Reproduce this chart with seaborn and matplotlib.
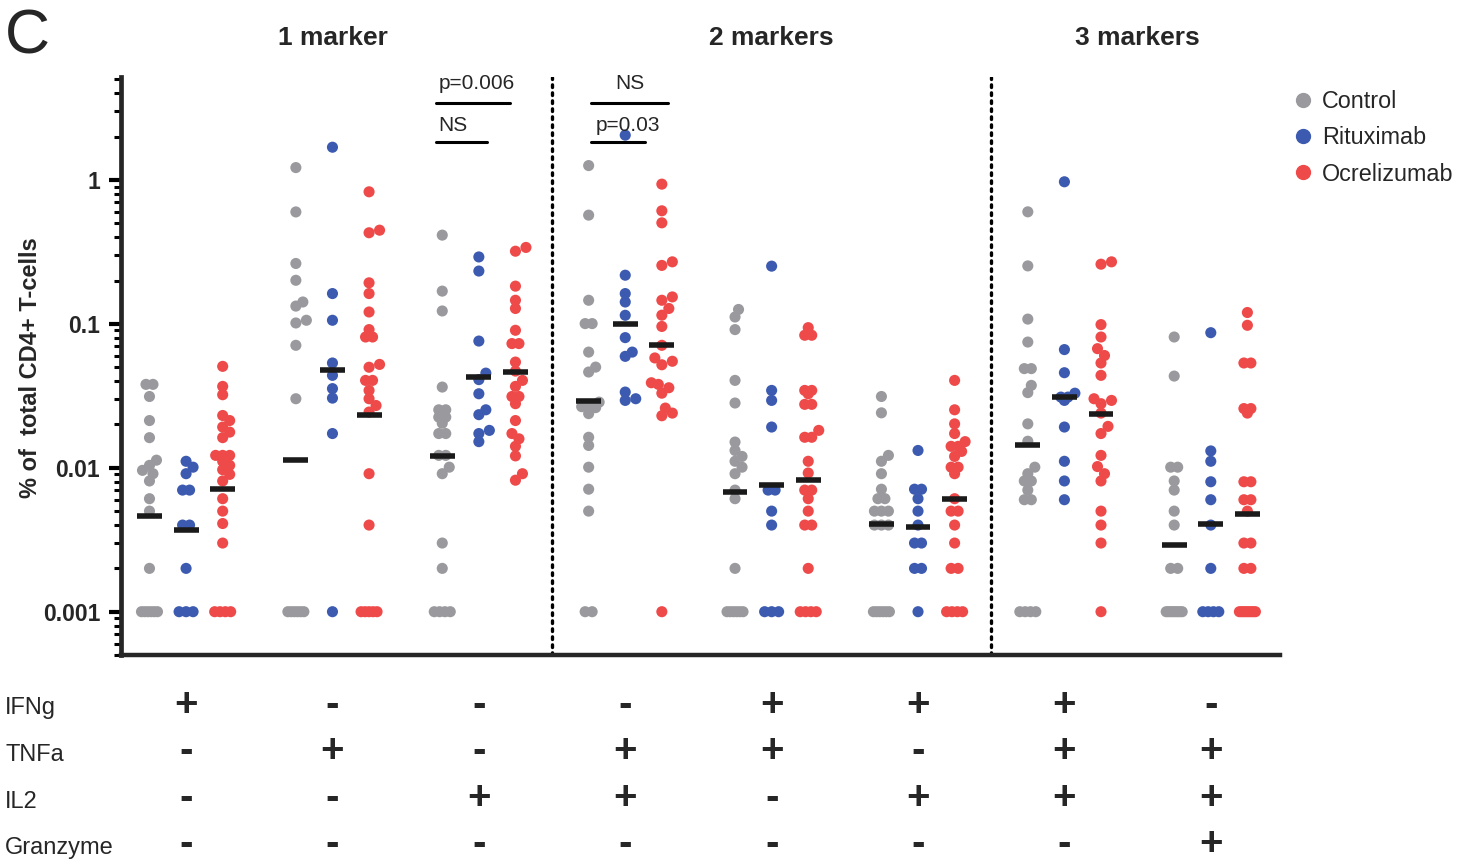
import numpy as np
import pandas as pd
import seaborn as sns
import matplotlib.pyplot as plt
from matplotlib.lines import Line2D
from matplotlib.ticker import LogLocator, NullFormatter
from matplotlib.transforms import blended_transform_factory


# Data (values in % of total CD4+ T-cells)
treatments = ["Control", "Rituximab", "Ocrelizumab"]
colors = ["#9a9a9e", "#3c5bb0", "#ef4a4a"]
detection_limit = 0.001

control = [
    [0.038, 0.038, 0.0313, 0.0213, 0.0162, 0.0113, 0.0104, 0.0096, 0.0091, 0.0081, 0.0061, 0.0050, 0.0020],
    [1.22, 0.60, 0.263, 0.201, 0.142, 0.133, 0.106, 0.1015, 0.071, 0.0302],
    [0.414, 0.169, 0.123, 0.0364, 0.0253, 0.0253, 0.0225, 0.0225, 0.0204, 0.0173, 0.0173, 0.0122, 0.0122,
     0.0101, 0.0091, 0.0030, 0.0020],
    [1.26, 0.57, 0.146, 0.1005, 0.1005, 0.0637, 0.0501, 0.0463, 0.0286, 0.0271, 0.0266, 0.0262, 0.0238,
     0.0163, 0.0143, 0.0101, 0.0071, 0.0050],
    [0.126, 0.1117, 0.0913, 0.0405, 0.0282, 0.0151, 0.0132, 0.0120, 0.0111, 0.0101, 0.0091, 0.0070, 0.0061, 0.0020],
    [0.0313, 0.0241, 0.0122, 0.0111, 0.0091, 0.0071, 0.0061, 0.0061, 0.0050, 0.0050, 0.0050, 0.0040, 0.0040, 0.0040],
    [0.601, 0.253, 0.108, 0.0748, 0.0489, 0.0489, 0.0374, 0.0333, 0.0202, 0.0153, 0.0101, 0.0091, 0.0081,
     0.0081, 0.0070, 0.0060, 0.0060],
    [0.0811, 0.0434, 0.0101, 0.0101, 0.0081, 0.0070, 0.0050, 0.0040, 0.0020, 0.0020],
]
control_floor = [6, 6, 4, 2, 6, 6, 4, 8]
control_median = [0.0046, 0.0114, 0.0120, 0.0289, 0.0068, 0.0041, 0.0143, 0.0029]

rituximab = [
    [0.0111, 0.0101, 0.0091, 0.0070, 0.0070, 0.0040, 0.0040, 0.0020],
    [1.69, 0.1625, 0.106, 0.0535, 0.0439, 0.0355, 0.0305, 0.0173],
    [0.292, 0.233, 0.076, 0.0455, 0.041, 0.0327, 0.0253, 0.0234, 0.0182, 0.0173, 0.0152],
    [2.05, 0.218, 0.1625, 0.142, 0.1148, 0.0803, 0.0637, 0.0595, 0.0336, 0.0302, 0.0294],
    [0.252, 0.0345, 0.0294, 0.0192, 0.0070, 0.0070, 0.0050, 0.0040],
    [0.0132, 0.0071, 0.0071, 0.0061, 0.0050, 0.0040, 0.0030, 0.0030, 0.0020, 0.0020],
    [0.972, 0.0663, 0.0458, 0.0330, 0.0310, 0.0310, 0.0294, 0.0192, 0.0111, 0.0081, 0.0060],
    [0.0869, 0.0131, 0.0111, 0.0080, 0.0060, 0.0040, 0.0020],
]
rituximab_floor = [3, 1, 0, 0, 3, 1, 0, 4]
rituximab_median = [0.0037, 0.0476, 0.0427, 0.1005, 0.0076, 0.0039, 0.0310, 0.0041]

ocrelizumab = [
    [0.0507, 0.0368, 0.0322, 0.0231, 0.0213, 0.0192, 0.0177, 0.0162, 0.0122, 0.0122, 0.0122, 0.0111, 0.0104,
     0.0097, 0.0090, 0.0081, 0.0061, 0.0050, 0.0041, 0.0030],
    [0.828, 0.448, 0.43, 0.193, 0.1625, 0.121, 0.0913, 0.0811, 0.0811, 0.0523, 0.050, 0.0405, 0.0405, 0.0345,
     0.0302, 0.0271, 0.0244, 0.0091, 0.0040],
    [0.34, 0.32, 0.183, 0.146, 0.128, 0.0903, 0.073, 0.073, 0.0543, 0.047, 0.0405, 0.0368, 0.0313, 0.0313,
     0.0279, 0.0213, 0.0173, 0.0159, 0.0141, 0.0121, 0.0091, 0.0082],
    [0.936, 0.611, 0.504, 0.27, 0.255, 0.154, 0.146, 0.128, 0.115, 0.096, 0.071, 0.058, 0.055, 0.052, 0.039,
     0.038, 0.036, 0.033, 0.026, 0.024, 0.023],
    [0.0942, 0.0834, 0.0834, 0.0345, 0.0345, 0.0327, 0.0276, 0.0276, 0.0182, 0.0163, 0.0163, 0.0111, 0.0092,
     0.0070, 0.0070, 0.0061, 0.0050, 0.0040, 0.0040, 0.0020],
    [0.0405, 0.0253, 0.0202, 0.0173, 0.0152, 0.0141, 0.0141, 0.0130, 0.0120, 0.0101, 0.0101, 0.0091, 0.0061,
     0.0050, 0.0050, 0.0040, 0.0030, 0.0020, 0.0020],
    [0.27, 0.26, 0.0989, 0.0811, 0.0673, 0.0603, 0.0535, 0.0439, 0.0302, 0.0294, 0.0279, 0.0240, 0.0194,
     0.0173, 0.0122, 0.0102, 0.0091, 0.0081, 0.0050, 0.0040, 0.0030],
    [0.120, 0.0978, 0.0535, 0.0535, 0.0258, 0.0258, 0.0240, 0.0080, 0.0080, 0.0060, 0.0060, 0.0050, 0.0030,
     0.0030, 0.0020, 0.0020],
]
ocrelizumab_floor = [4, 5, 0, 1, 4, 4, 1, 8]
ocrelizumab_median = [0.0071, 0.0231, 0.0463, 0.071, 0.0082, 0.0061, 0.0235, 0.0048]

# marker combination table under the plot
marker_names = ["IFNg", "TNFa", "IL2", "Granzyme"]
ifng = ["+", "-", "-", "-", "+", "+", "+", "-"]
tnfa = ["-", "+", "-", "+", "+", "-", "+", "+"]
il2 = ["-", "-", "+", "+", "-", "+", "+", "+"]
granzyme = ["-", "-", "-", "-", "-", "-", "-", "+"]

headers = ["1 marker", "2 markers", "3 markers"]
header_x = [1, 4, 6.5]

n_groups = len(control)
dodge = 0.25


def swarm_offsets(values, px_x, px_y, diam=8.0, step=3.5, limit=11.0):
    # simple beeswarm: returns horizontal offsets (data units) for one column
    values = np.asarray(values, dtype=float)
    offs = np.zeros(len(values))
    placed = []
    cands = [0.0] + [s * k * step for k in range(1, int(limit / step) + 1) for s in (1, -1)]
    for u in np.unique(values):
        idx = np.where(values == u)[0]
        y = np.log10(u) * px_y
        if len(idx) > 1:
            half = min(3.5 * (len(idx) - 1), 8.0)
            pos = np.linspace(-half, half, len(idx))
        else:
            best, best_d = 0.0, -1.0
            for c in cands:
                d = min((np.hypot(c - px, y - py) for px, py in placed), default=np.inf)
                if d >= diam:
                    best = c
                    break
                if d > best_d:
                    best, best_d = c, d
            pos = np.array([best])
        offs[idx] = pos
        placed += [(p, y) for p in pos]
    return offs / px_x


sns.set_style("ticks")
plt.rcParams["font.family"] = ["Liberation Sans", "DejaVu Sans"]

fig = plt.figure(figsize=(14.73, 8.63), dpi=100)
ax = fig.add_axes([0.0822, 0.2410, 0.7868, 0.6698])
ax.set_yscale("log")
xlim = (-0.444, 7.473)
ylim = (0.0005, 5.2)
ax.set_xlim(*xlim)
ax.set_ylim(*ylim)

bbox = ax.get_window_extent()
px_x = bbox.width / (xlim[1] - xlim[0])
px_y = bbox.height / (np.log10(ylim[1]) - np.log10(ylim[0]))

all_vals = [control, rituximab, ocrelizumab]
all_floor = [control_floor, rituximab_floor, ocrelizumab_floor]
all_median = [control_median, rituximab_median, ocrelizumab_median]

rows = []
for t, name in enumerate(treatments):
    for g in range(n_groups):
        vals = list(all_vals[t][g]) + [detection_limit] * all_floor[t][g]
        offs = swarm_offsets(vals, px_x, px_y)
        for v, o in zip(vals, offs):
            rows.append({"treatment": name, "group": g, "value": v, "x": g + (t - 1) * dodge + o})
df = pd.DataFrame(rows)

sns.scatterplot(
    data=df, x="x", y="value", hue="treatment", hue_order=treatments,
    palette=colors, s=64, linewidth=0, legend=False, ax=ax, zorder=2,
)

# median bars
for t in range(len(treatments)):
    xc = np.arange(n_groups) + (t - 1) * dodge
    ax.hlines(all_median[t], xc - 0.085, xc + 0.085, color="#1a1a1a", lw=4.0, zorder=3)

# section separators
for xv in [2.5, 5.5]:
    ax.axvline(xv, color="black", lw=2.4, linestyle=(0, (0.8, 1.6)), dash_capstyle="round", zorder=1)

# significance annotations
ax.plot([1.708, 2.213], [3.43, 3.43], color="black", lw=2.2, clip_on=False)
ax.plot([1.708, 2.056], [1.835, 1.835], color="black", lw=2.2, clip_on=False)
ax.text(1.988, 4.72, "p=0.006", ha="center", va="center", fontsize=15)
ax.text(1.824, 2.41, "NS", ha="center", va="center", fontsize=15)
ax.plot([2.766, 3.292], [3.43, 3.43], color="black", lw=2.2, clip_on=False)
ax.plot([2.766, 3.135], [1.835, 1.835], color="black", lw=2.2, clip_on=False)
ax.text(3.033, 4.72, "NS", ha="center", va="center", fontsize=15)
ax.text(3.019, 2.41, "p=0.03", ha="center", va="center", fontsize=15)

# axes styling
sns.despine(ax=ax)
ax.spines["left"].set_linewidth(3.4)
ax.spines["bottom"].set_linewidth(3.2)
ax.set_xticks([])
ax.set_yticks([0.001, 0.01, 0.1, 1])
ax.set_yticklabels(["0.001", "0.01", "0.1", "1"], fontsize=16.5, fontweight="bold")
ax.yaxis.set_minor_locator(LogLocator(base=10, subs=np.arange(2, 10), numticks=20))
ax.yaxis.set_minor_formatter(NullFormatter())
ax.tick_params(axis="y", which="major", length=9, width=3.0, pad=6, color="black")
ax.tick_params(axis="y", which="minor", length=5, width=2.2, color="black")
ax.set_xlabel("")
ax.set_ylabel("% of  total CD4+ T-cells", fontsize=17, fontweight="bold")
ax.yaxis.set_label_coords(-0.068, 0.497)

# group headers
top_tr = blended_transform_factory(ax.transData, fig.transFigure)
for h, hx in zip(headers, header_x):
    ax.text(hx, 1 - 38 / 863, h, transform=top_tr, ha="center", va="center",
            fontsize=19, fontweight="bold")

fig.text(5 / 1473, 1 - 37 / 863, "C", fontsize=45, ha="left", va="center")

# legend
handles = [Line2D([0], [0], marker="o", ls="", color=c, markersize=10) for c in colors]
fig.legend(handles, treatments, loc="upper left", bbox_to_anchor=(1294 / 1473, 1 - 90 / 863),
           frameon=False, fontsize=16.8, handlelength=0.8, handletextpad=0.4,
           labelspacing=0.57, borderpad=0, borderaxespad=0)

# marker combination table
for r, (name, signs) in enumerate(zip(marker_names, [ifng, tnfa, il2, granzyme])):
    base = 1 - (714 + 46.8 * r) / 863
    fig.text(5 / 1473, base, name, fontsize=17, ha="left", va="baseline")
    sign_base = 1 - (716 + 46.3 * r) / 863
    for g, s in enumerate(signs):
        ax.text(g, sign_base, s, transform=top_tr, ha="center", va="baseline",
                fontsize=29, fontweight="bold", clip_on=False)

fig.savefig("out.png", dpi=100)
